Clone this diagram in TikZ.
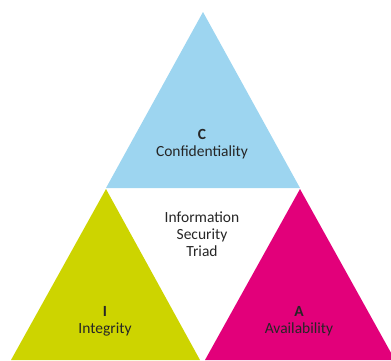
\documentclass[tikz,border=0pt]{standalone}
\usepackage{fontspec}
\setmainfont{Carlito}
\usepackage{xcolor}

\begin{document}
\begin{tikzpicture}[x=1pt,y=-1pt]

% Couleurs
\definecolor{bleuC}{HTML}{9DD5F0}
\definecolor{vertI}{HTML}{CDD400}
\definecolor{roseA}{HTML}{E2007A}

\tikzset{etiquette/.style={align=center,inner sep=0pt,
  font=\fontsize{15.5}{17}\selectfont,text=black!85}}

\useasboundingbox (0,0) rectangle (391,360);

% Triangle du haut (C)
\coordinate (C1) at (203,12);
\coordinate (C2) at (106,188);
\coordinate (C3) at (300,188);

% Triangle de gauche (I)
\coordinate (I1) at (106,189);
\coordinate (I2) at (11,360);
\coordinate (I3) at (200,360);

% Triangle de droite (A)
\coordinate (A1) at (300,189);
\coordinate (A2) at (205,360);
\coordinate (A3) at (395,360);

\fill[bleuC] (C1)--(C2)--(C3)--cycle;
\fill[vertI] (I1)--(I2)--(I3)--cycle;
\begin{scope}
  \clip (0,0) rectangle (391,360);
  \fill[roseA] (A1)--(A2)--(A3)--cycle;
\end{scope}

% Etiquettes
\node[etiquette] (conf) at (202,144) {\textbf{C}\\Confidentiality};
\node[etiquette] (triad) at (202,234) {Information\\Security\\Triad};
\node[etiquette] (integ) at (105,321) {\textbf{I}\\Integrity};
\node[etiquette] (avail) at (299,321) {\textbf{A}\\Availability};

\end{tikzpicture}
\end{document}
